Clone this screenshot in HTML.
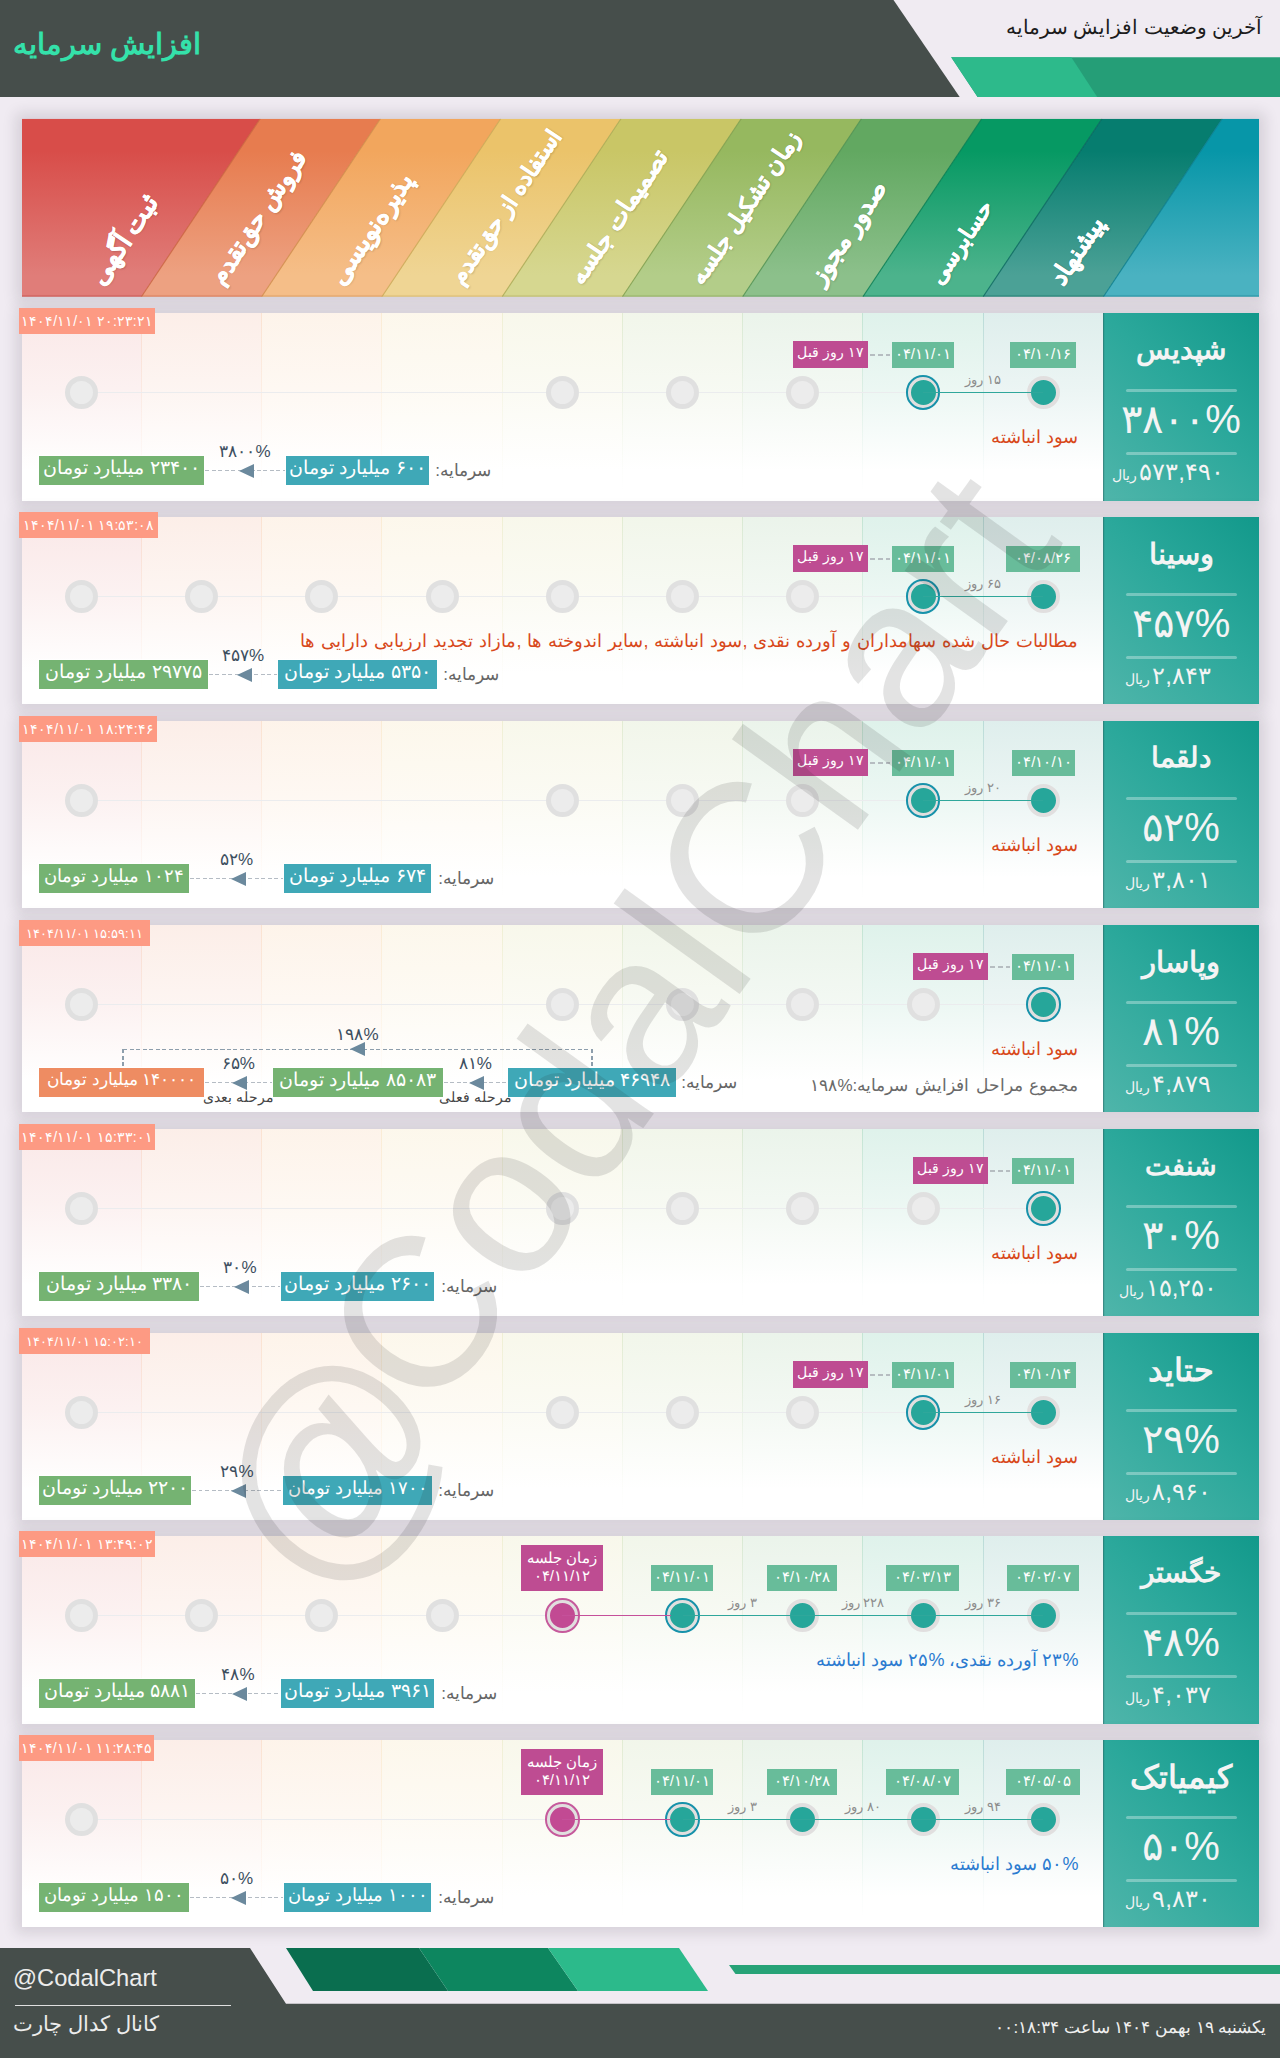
<!DOCTYPE html>
<html lang="fa">
<head>
<meta charset="utf-8">
<title>افزایش سرمایه</title>
<style>

*{box-sizing:border-box;margin:0;padding:0}
html,body{width:1280px;height:2058px;overflow:hidden}
body{position:relative;background:#f0ebf2;font-family:"Liberation Sans",sans-serif;color:#333}
.abs,.row,.row *,.hd *,.ft *,.sl{position:absolute}
.row span,.hd span,.ft span,.row small{position:static}
svg{position:absolute;left:0;top:0;overflow:visible}
.t{white-space:nowrap;display:flex;align-items:center;justify-content:center;direction:rtl;line-height:1}
.t.r{justify-content:flex-start}
.t.l{justify-content:flex-end}
.ltr{direction:ltr}
.row{left:22px;width:1237px;height:187.4px;background:#fff;box-shadow:0 0 13px 6px rgba(45,35,50,.135)}
.col{top:0;height:100%}
.vl{top:0;width:1px;height:100%}
.hl{height:1px;background:#ebecee}
.pn{top:0;right:0;height:100%;box-shadow:inset 1.2px 0 0 rgba(40,90,90,.45);background:linear-gradient(225deg,#12998b 0%,#2ba89b 45%,#4fb5aa 100%)}
.pn .nm{color:#f4f4f4;font-weight:bold}
.pn .dv{height:3px;border-radius:2px;background:rgba(255,255,255,.32)}
.pn .pc{color:#f4f4f4}
.pn .pr{color:#f4f4f4}
.pn .pr small{position:static;font-size:.6em;margin-right:2px}
.tag{background:#fd9a83;color:#fff}
.ce{width:33px;height:33px;border-radius:50%;background:#ececec;border:5.8px solid #e0e0e0}
.cf{width:33px;height:33px;border-radius:50%;background:#26a69a;border:4.3px solid #e1dfdf}
.cf.m{background:#c24a93}
.ring{width:34.4px;height:34.4px;border-radius:50%;border:2px solid #1792aa}
.ring.m{border-color:#c65a9c}
.ln{height:1.4px;background:#2fa79b}
.ln.m{background:#c5509a}
.dl{background:#68bc9a;color:#fff}
.ag{background:#be4c92;color:#fff}
.dash{height:1.2px;background:repeating-linear-gradient(to right,#b6bdc1 0,#b6bdc1 5px,transparent 5px,transparent 7.8px)}
.du{color:#8c8c8c}
.ds{color:#d8491c}
.ds.b{color:#2b7bd0}
.ds2{color:#6a6a6a}
.cap{color:#fff}
.cap{box-shadow:0 0 0 1px rgba(255,255,255,.75)}
.cap.g{background:#75b372}.cap.b{background:#3fa8b7}.cap.o{background:#ee8c62}
.cl{color:#666}
.ad{height:1.4px;background:repeating-linear-gradient(to right,#b5bcc4 0,#b5bcc4 4px,transparent 4px,transparent 6.5px)}
.vd{width:1.4px;background:repeating-linear-gradient(to bottom,#8d9eac 0,#8d9eac 4px,transparent 4px,transparent 6.5px)}
.hd2{height:1.4px;background:repeating-linear-gradient(to right,#8d9eac 0,#8d9eac 4px,transparent 4px,transparent 6.5px)}
.ah{width:0;height:0;border-top:7px solid transparent;border-bottom:7px solid transparent;border-right:15px solid #6b899d}
.ap{color:#3d4f60}
.sb{color:#444}
.sl{color:#fff;font-weight:bold;-webkit-text-stroke:.5px #fff;transform-origin:0 100%;text-shadow:0 1px 2px rgba(0,0,0,.18)}
.wm{left:0;top:0;white-space:nowrap;color:rgba(30,30,30,.125);transform-origin:0 0;line-height:1;direction:ltr}

</style>
</head>
<body>
<div class="hd abs" style="left:0;top:0;width:1280px;height:110px">
<svg width="1280" height="110" viewBox="0 0 1280 110"><polygon points="0,0 893.5,0 959.7,97 0,97" fill="#464e4b"/><polygon points="951.2,57.3 1280,57.3 1280,97 977.6,97" fill="#259e77"/><polygon points="951.2,57.3 1071.3,57.3 1097.2,97 977.6,97" fill="#2dba8b"/></svg>
<div class="t r" style="left:0;top:22px;width:201.5px;height:44px;font-size:29px;font-weight:bold;color:#34e1aa" id="ttl"><span>افزایش سرمایه</span></div>
<div class="t r" style="left:900px;top:12px;width:362.5px;height:30px;font-size:20px;color:#1c1c1c" id="sub"><span>آخرین وضعیت افزایش سرمایه</span></div>
</div>
<div class="abs" style="left:0;top:0;width:1280px;height:300px">
<div class="abs" style="left:22.0px;top:118.8px;width:1237.0px;height:177.89999999999998px;box-shadow:0 0 13px 6px rgba(45,35,50,.135)"></div>
<svg width="1280" height="300" viewBox="0 0 1280 300">
<defs>
<linearGradient id="g0" x1="0" y1="0" x2="0" y2="1"><stop offset=".18" stop-color="#d84d49"/><stop offset=".88" stop-color="#e07d79"/></linearGradient>
<linearGradient id="g1" x1="0" y1="0" x2="0" y2="1"><stop offset=".18" stop-color="#e77c4f"/><stop offset=".88" stop-color="#eda181"/></linearGradient>
<linearGradient id="g2" x1="0" y1="0" x2="0" y2="1"><stop offset=".18" stop-color="#f2a65d"/><stop offset=".88" stop-color="#f5be88"/></linearGradient>
<linearGradient id="g3" x1="0" y1="0" x2="0" y2="1"><stop offset=".18" stop-color="#ebc36a"/><stop offset=".88" stop-color="#efd594"/></linearGradient>
<linearGradient id="g4" x1="0" y1="0" x2="0" y2="1"><stop offset=".18" stop-color="#c9c666"/><stop offset=".88" stop-color="#d6d790"/></linearGradient>
<linearGradient id="g5" x1="0" y1="0" x2="0" y2="1"><stop offset=".18" stop-color="#96b85f"/><stop offset=".88" stop-color="#b3cd89"/></linearGradient>
<linearGradient id="g6" x1="0" y1="0" x2="0" y2="1"><stop offset=".18" stop-color="#62a861"/><stop offset=".88" stop-color="#8cc08b"/></linearGradient>
<linearGradient id="g7" x1="0" y1="0" x2="0" y2="1"><stop offset=".18" stop-color="#069963"/><stop offset=".88" stop-color="#4cb38c"/></linearGradient>
<linearGradient id="g8" x1="0" y1="0" x2="0" y2="1"><stop offset=".18" stop-color="#067d6f"/><stop offset=".88" stop-color="#4ba196"/></linearGradient>
<linearGradient id="g9" x1="0" y1="0" x2="0" y2="1"><stop offset=".18" stop-color="#0796a8"/><stop offset=".88" stop-color="#4ab2c1"/></linearGradient>
<filter id="bs" x="-5%" y="-10%" width="110%" height="125%"><feGaussianBlur stdDeviation="4"/></filter>
<clipPath id="bc"><rect x="22.0" y="118.8" width="1237.0" height="177.89999999999998"/></clipPath>
</defs>
<g clip-path="url(#bc)">
<polygon points="-178.00,296.70 -59.20,118.80 260.20,118.80 141.40,296.70" fill="url(#g0)"/>
<polygon points="141.40,296.70 260.20,118.80 380.45,118.80 261.65,296.70" fill="url(#g1)"/>
<polygon points="261.65,296.70 380.45,118.80 500.70,118.80 381.90,296.70" fill="url(#g2)"/>
<polygon points="381.90,296.70 500.70,118.80 620.95,118.80 502.15,296.70" fill="url(#g3)"/>
<polygon points="502.15,296.70 620.95,118.80 741.20,118.80 622.40,296.70" fill="url(#g4)"/>
<polygon points="622.40,296.70 741.20,118.80 861.45,118.80 742.65,296.70" fill="url(#g5)"/>
<polygon points="742.65,296.70 861.45,118.80 981.70,118.80 862.90,296.70" fill="url(#g6)"/>
<polygon points="862.90,296.70 981.70,118.80 1101.95,118.80 983.15,296.70" fill="url(#g7)"/>
<polygon points="983.15,296.70 1101.95,118.80 1222.20,118.80 1103.40,296.70" fill="url(#g8)"/>
<polygon points="1103.40,296.70 1222.20,118.80 1618.80,118.80 1500.00,296.70" fill="url(#g9)"/>
<line x1="141.40" y1="296.70" x2="260.20" y2="118.80" stroke="#c9603a" stroke-width="1.1" stroke-opacity=".85"/>
<line x1="261.65" y1="296.70" x2="380.45" y2="118.80" stroke="#cf8a45" stroke-width="1.1" stroke-opacity=".85"/>
<line x1="381.90" y1="296.70" x2="500.70" y2="118.80" stroke="#c9a650" stroke-width="1.1" stroke-opacity=".85"/>
<line x1="502.15" y1="296.70" x2="620.95" y2="118.80" stroke="#a9a850" stroke-width="1.1" stroke-opacity=".85"/>
<line x1="622.40" y1="296.70" x2="741.20" y2="118.80" stroke="#7d9c49" stroke-width="1.1" stroke-opacity=".85"/>
<line x1="742.65" y1="296.70" x2="861.45" y2="118.80" stroke="#4c8e4c" stroke-width="1.1" stroke-opacity=".85"/>
<line x1="862.90" y1="296.70" x2="981.70" y2="118.80" stroke="#047a4e" stroke-width="1.1" stroke-opacity=".85"/>
<line x1="983.15" y1="296.70" x2="1101.95" y2="118.80" stroke="#04645a" stroke-width="1.1" stroke-opacity=".85"/>
<line x1="1103.40" y1="296.70" x2="1222.20" y2="118.80" stroke="#057a89" stroke-width="1.1" stroke-opacity=".85"/>
<rect x="22.00" y="295.70" width="119.40" height="1" fill="#b93c38" fill-opacity=".8"/>
<rect x="141.40" y="295.70" width="120.25" height="1" fill="#c9603a" fill-opacity=".8"/>
<rect x="261.65" y="295.70" width="120.25" height="1" fill="#cf8a45" fill-opacity=".8"/>
<rect x="381.90" y="295.70" width="120.25" height="1" fill="#c9a650" fill-opacity=".8"/>
<rect x="502.15" y="295.70" width="120.25" height="1" fill="#a9a850" fill-opacity=".8"/>
<rect x="622.40" y="295.70" width="120.25" height="1" fill="#7d9c49" fill-opacity=".8"/>
<rect x="742.65" y="295.70" width="120.25" height="1" fill="#4c8e4c" fill-opacity=".8"/>
<rect x="862.90" y="295.70" width="120.25" height="1" fill="#047a4e" fill-opacity=".8"/>
<rect x="983.15" y="295.70" width="120.25" height="1" fill="#04645a" fill-opacity=".8"/>
<rect x="1103.40" y="295.70" width="155.60" height="1" fill="#057a89" fill-opacity=".8"/>
</g></svg>
<div class="t sl l" id="sl0" style="left:108px;top:260px;height:30px;width:260px;font-size:26px;transform:rotate(-56.27deg)"><span>ثبت آگهی</span></div>
<div class="t sl l" id="sl1" style="left:228px;top:260px;height:30px;width:260px;font-size:24px;transform:rotate(-56.27deg)"><span>فروش حق‌تقدم</span></div>
<div class="t sl l" id="sl2" style="left:348px;top:260px;height:30px;width:260px;font-size:26px;transform:rotate(-56.27deg)"><span>پذیره‌نویسی</span></div>
<div class="t sl l" id="sl3" style="left:468px;top:260px;height:30px;width:260px;font-size:23px;transform:rotate(-56.27deg)"><span>استفاده از حق‌تقدم</span></div>
<div class="t sl l" id="sl4" style="left:588px;top:260px;height:30px;width:260px;font-size:24px;transform:rotate(-56.27deg)"><span>تصمیمات جلسه</span></div>
<div class="t sl l" id="sl5" style="left:708px;top:260px;height:30px;width:260px;font-size:23px;transform:rotate(-56.27deg)"><span>زمان تشکیل جلسه</span></div>
<div class="t sl l" id="sl6" style="left:828px;top:260px;height:30px;width:260px;font-size:24.5px;transform:rotate(-56.27deg)"><span>صدور مجوز</span></div>
<div class="t sl l" id="sl7" style="left:948px;top:260px;height:30px;width:260px;font-size:22px;transform:rotate(-56.27deg)"><span>حسابرسی</span></div>
<div class="t sl l" id="sl8" style="left:1068px;top:260px;height:30px;width:260px;font-size:25px;transform:rotate(-56.27deg)"><span>پیشنهاد</span></div>
</div>
<div class="row" style="top:312.85px;height:188.13px">
<div class="col" style="left:0.00px;width:119.40px;background:linear-gradient(to bottom,rgba(216,77,73,.13) 0%,rgba(216,77,73,.078) 40%,rgba(216,77,73,0) 84%)"></div>
<div class="col" style="left:119.40px;width:120.25px;background:linear-gradient(to bottom,rgba(231,124,79,.13) 0%,rgba(231,124,79,.078) 40%,rgba(231,124,79,0) 84%)"></div>
<div class="col" style="left:239.65px;width:120.25px;background:linear-gradient(to bottom,rgba(242,166,93,.13) 0%,rgba(242,166,93,.078) 40%,rgba(242,166,93,0) 84%)"></div>
<div class="col" style="left:359.90px;width:120.25px;background:linear-gradient(to bottom,rgba(235,195,106,.13) 0%,rgba(235,195,106,.078) 40%,rgba(235,195,106,0) 84%)"></div>
<div class="col" style="left:480.15px;width:120.25px;background:linear-gradient(to bottom,rgba(201,198,102,.13) 0%,rgba(201,198,102,.078) 40%,rgba(201,198,102,0) 84%)"></div>
<div class="col" style="left:600.40px;width:120.25px;background:linear-gradient(to bottom,rgba(150,184,95,.13) 0%,rgba(150,184,95,.078) 40%,rgba(150,184,95,0) 84%)"></div>
<div class="col" style="left:720.65px;width:120.25px;background:linear-gradient(to bottom,rgba(98,168,97,.13) 0%,rgba(98,168,97,.078) 40%,rgba(98,168,97,0) 84%)"></div>
<div class="col" style="left:840.90px;width:120.25px;background:linear-gradient(to bottom,rgba(6,153,99,.13) 0%,rgba(6,153,99,.078) 40%,rgba(6,153,99,0) 84%)"></div>
<div class="col" style="left:961.15px;width:120.15px;background:linear-gradient(to bottom,rgba(6,125,111,.13) 0%,rgba(6,125,111,.078) 40%,rgba(6,125,111,0) 84%)"></div>
<div class="vl" style="left:118.90px;background:linear-gradient(to bottom,rgba(231,124,79,.17),rgba(231,124,79,0) 95%)"></div>
<div class="vl" style="left:239.15px;background:linear-gradient(to bottom,rgba(242,166,93,.17),rgba(242,166,93,0) 95%)"></div>
<div class="vl" style="left:359.40px;background:linear-gradient(to bottom,rgba(235,195,106,.17),rgba(235,195,106,0) 95%)"></div>
<div class="vl" style="left:479.65px;background:linear-gradient(to bottom,rgba(201,198,102,.17),rgba(201,198,102,0) 95%)"></div>
<div class="vl" style="left:599.90px;background:linear-gradient(to bottom,rgba(150,184,95,.17),rgba(150,184,95,0) 95%)"></div>
<div class="vl" style="left:720.15px;background:linear-gradient(to bottom,rgba(98,168,97,.17),rgba(98,168,97,0) 95%)"></div>
<div class="vl" style="left:840.40px;background:linear-gradient(to bottom,rgba(6,153,99,.17),rgba(6,153,99,0) 95%)"></div>
<div class="vl" style="left:960.65px;background:linear-gradient(to bottom,rgba(6,125,111,.17),rgba(6,125,111,0) 95%)"></div>
<div class="hl" style="left:59.40px;top:79.10px;width:962.00px"></div>
<div class="ce" style="left:42.90px;top:63.10px"></div>
<div class="ce" style="left:523.90px;top:63.10px"></div>
<div class="ce" style="left:644.15px;top:63.10px"></div>
<div class="ce" style="left:764.40px;top:63.10px"></div>
<div class="cf" style="left:1004.90px;top:63.10px"></div>
<div class="t dl ltr" style="left:988.00px;top:29.30px;width:66.00px;height:25.80px;font-size:15px;padding-bottom:3.5px;"><span>۰۴/۱۰/۱۶</span></div>
<div class="cf" style="left:884.65px;top:63.10px"></div>
<div class="ring" style="left:883.95px;top:62.40px"></div>
<div class="t dl ltr" style="left:870.00px;top:29.30px;width:62.00px;height:25.80px;font-size:15px;padding-bottom:3.5px;"><span>۰۴/۱۱/۰۱</span></div>
<div class="ln" style="left:901.15px;top:78.95px;width:120.25px"></div>
<div class="t du" style="left:921.28px;top:59.10px;width:80.00px;height:16.00px;font-size:13px;"><span>۱۵ روز</span></div>
<div class="t ag" style="left:771.00px;top:28.30px;width:75.00px;height:27.00px;font-size:14px;padding-bottom:6px;"><span>۱۷ روز قبل</span></div>
<div class="dash" style="left:848.00px;top:41.60px;width:20.00px"></div>
<div class="t ds r " style="left:156.50px;top:112.00px;width:900.00px;height:24.00px;font-size:18px;"><span>سود انباشته</span></div>
<div class="t cap g" style="left:17.00px;top:142.90px;width:165.00px;height:29.00px;font-size:19px;padding-bottom:5px;"><span>۲۳۴۰۰ میلیارد تومان</span></div>
<div class="t cap b" style="left:264.00px;top:142.90px;width:143.00px;height:29.00px;font-size:19px;padding-bottom:5px;"><span>۶۰۰ میلیارد تومان</span></div>
<div class="t cl r" style="left:369.00px;top:142.90px;width:100.00px;height:29.00px;font-size:17px;"><span>سرمایه:</span></div>
<div class="ad" style="left:183.00px;top:157.20px;width:80.00px"></div>
<div class="ah" style="left:217.00px;top:150.90px"></div>
<div class="t ap ltr" style="left:183.00px;top:129.40px;width:80.00px;height:18.00px;font-size:17px;"><span>۳۸۰۰%</span></div>
<div class="t tag ltr" style="left:-3.00px;top:-4.60px;width:136.00px;height:25.70px;font-size:14px;"><span>۱۴۰۴/۱۱/۰۱ ۲۰:۲۳:۲۱</span></div>
<div class="pn" style="width:155.70px">
<div class="t nm" id="nm0" style="left:0.00px;top:15.50px;width:155.70px;height:44.00px;font-size:28px;"><span>شپدیس</span></div>
<div class="dv" style="left:23px;top:75.90px;width:111px"></div>
<div class="t pc ltr" id="pc0" style="left:0.00px;top:82.50px;width:155.70px;height:48.00px;font-size:40px;"><span>۳۸۰۰%</span></div>
<div class="dv" style="left:23px;top:138.90px;width:111px"></div>
<div class="t pr" id="pr0" style="left:-15.30px;top:147px;width:160px;height:24px;font-size:24px"><span>۵۷۳,۴۹۰<small>ریال</small></span></div>
</div>
</div>
<div class="row" style="top:516.84px;height:187.13px">
<div class="col" style="left:0.00px;width:119.40px;background:linear-gradient(to bottom,rgba(216,77,73,.13) 0%,rgba(216,77,73,.078) 40%,rgba(216,77,73,0) 84%)"></div>
<div class="col" style="left:119.40px;width:120.25px;background:linear-gradient(to bottom,rgba(231,124,79,.13) 0%,rgba(231,124,79,.078) 40%,rgba(231,124,79,0) 84%)"></div>
<div class="col" style="left:239.65px;width:120.25px;background:linear-gradient(to bottom,rgba(242,166,93,.13) 0%,rgba(242,166,93,.078) 40%,rgba(242,166,93,0) 84%)"></div>
<div class="col" style="left:359.90px;width:120.25px;background:linear-gradient(to bottom,rgba(235,195,106,.13) 0%,rgba(235,195,106,.078) 40%,rgba(235,195,106,0) 84%)"></div>
<div class="col" style="left:480.15px;width:120.25px;background:linear-gradient(to bottom,rgba(201,198,102,.13) 0%,rgba(201,198,102,.078) 40%,rgba(201,198,102,0) 84%)"></div>
<div class="col" style="left:600.40px;width:120.25px;background:linear-gradient(to bottom,rgba(150,184,95,.13) 0%,rgba(150,184,95,.078) 40%,rgba(150,184,95,0) 84%)"></div>
<div class="col" style="left:720.65px;width:120.25px;background:linear-gradient(to bottom,rgba(98,168,97,.13) 0%,rgba(98,168,97,.078) 40%,rgba(98,168,97,0) 84%)"></div>
<div class="col" style="left:840.90px;width:120.25px;background:linear-gradient(to bottom,rgba(6,153,99,.13) 0%,rgba(6,153,99,.078) 40%,rgba(6,153,99,0) 84%)"></div>
<div class="col" style="left:961.15px;width:120.15px;background:linear-gradient(to bottom,rgba(6,125,111,.13) 0%,rgba(6,125,111,.078) 40%,rgba(6,125,111,0) 84%)"></div>
<div class="vl" style="left:118.90px;background:linear-gradient(to bottom,rgba(231,124,79,.17),rgba(231,124,79,0) 95%)"></div>
<div class="vl" style="left:239.15px;background:linear-gradient(to bottom,rgba(242,166,93,.17),rgba(242,166,93,0) 95%)"></div>
<div class="vl" style="left:359.40px;background:linear-gradient(to bottom,rgba(235,195,106,.17),rgba(235,195,106,0) 95%)"></div>
<div class="vl" style="left:479.65px;background:linear-gradient(to bottom,rgba(201,198,102,.17),rgba(201,198,102,0) 95%)"></div>
<div class="vl" style="left:599.90px;background:linear-gradient(to bottom,rgba(150,184,95,.17),rgba(150,184,95,0) 95%)"></div>
<div class="vl" style="left:720.15px;background:linear-gradient(to bottom,rgba(98,168,97,.17),rgba(98,168,97,0) 95%)"></div>
<div class="vl" style="left:840.40px;background:linear-gradient(to bottom,rgba(6,153,99,.17),rgba(6,153,99,0) 95%)"></div>
<div class="vl" style="left:960.65px;background:linear-gradient(to bottom,rgba(6,125,111,.17),rgba(6,125,111,0) 95%)"></div>
<div class="hl" style="left:59.40px;top:79.10px;width:962.00px"></div>
<div class="ce" style="left:42.90px;top:63.10px"></div>
<div class="ce" style="left:163.15px;top:63.10px"></div>
<div class="ce" style="left:283.40px;top:63.10px"></div>
<div class="ce" style="left:403.65px;top:63.10px"></div>
<div class="ce" style="left:523.90px;top:63.10px"></div>
<div class="ce" style="left:644.15px;top:63.10px"></div>
<div class="ce" style="left:764.40px;top:63.10px"></div>
<div class="cf" style="left:1004.90px;top:63.10px"></div>
<div class="t dl ltr" style="left:984.00px;top:29.30px;width:74.00px;height:25.80px;font-size:15px;padding-bottom:3.5px;"><span>۰۴/۰۸/۲۶</span></div>
<div class="cf" style="left:884.65px;top:63.10px"></div>
<div class="ring" style="left:883.95px;top:62.40px"></div>
<div class="t dl ltr" style="left:870.00px;top:29.30px;width:62.00px;height:25.80px;font-size:15px;padding-bottom:3.5px;"><span>۰۴/۱۱/۰۱</span></div>
<div class="ln" style="left:901.15px;top:78.95px;width:120.25px"></div>
<div class="t du" style="left:921.28px;top:59.10px;width:80.00px;height:16.00px;font-size:13px;"><span>۶۵ روز</span></div>
<div class="t ag" style="left:771.00px;top:28.30px;width:75.00px;height:27.00px;font-size:14px;padding-bottom:6px;"><span>۱۷ روز قبل</span></div>
<div class="dash" style="left:848.00px;top:41.60px;width:20.00px"></div>
<div class="t ds r " style="left:156.50px;top:112.00px;width:900.00px;height:24.00px;font-size:18px;word-spacing:1px;"><span>مطالبات حال شده سهامداران و آورده نقدی ,سود انباشته ,سایر اندوخته ها ,مازاد تجدید ارزیابی دارایی ها</span></div>
<div class="t cap g" style="left:17.00px;top:142.90px;width:169.00px;height:29.00px;font-size:19px;padding-bottom:5px;"><span>۲۹۷۷۵ میلیارد تومان</span></div>
<div class="t cap b" style="left:256.00px;top:142.90px;width:159.00px;height:29.00px;font-size:19px;padding-bottom:5px;"><span>۵۳۵۰ میلیارد تومان</span></div>
<div class="t cl r" style="left:377.00px;top:142.90px;width:100.00px;height:29.00px;font-size:17px;"><span>سرمایه:</span></div>
<div class="ad" style="left:187.00px;top:157.20px;width:68.00px"></div>
<div class="ah" style="left:215.00px;top:150.90px"></div>
<div class="t ap ltr" style="left:181.00px;top:129.40px;width:80.00px;height:18.00px;font-size:17px;"><span>۴۵۷%</span></div>
<div class="t tag ltr" style="left:-3.00px;top:-4.60px;width:139.00px;height:25.70px;font-size:14px;"><span>۱۴۰۴/۱۱/۰۱ ۱۹:۵۳:۰۸</span></div>
<div class="pn" style="width:155.70px">
<div class="t nm" id="nm1" style="left:0.00px;top:15.50px;width:155.70px;height:44.00px;font-size:29px;"><span>وسینا</span></div>
<div class="dv" style="left:23px;top:75.90px;width:111px"></div>
<div class="t pc ltr" id="pc1" style="left:0.00px;top:82.50px;width:155.70px;height:48.00px;font-size:40px;"><span>۴۵۷%</span></div>
<div class="dv" style="left:23px;top:138.90px;width:111px"></div>
<div class="t pr" id="pr1" style="left:-15.30px;top:147px;width:160px;height:24px;font-size:24px"><span>۲,۸۴۳<small>ریال</small></span></div>
</div>
</div>
<div class="row" style="top:720.84px;height:187.13px">
<div class="col" style="left:0.00px;width:119.40px;background:linear-gradient(to bottom,rgba(216,77,73,.13) 0%,rgba(216,77,73,.078) 40%,rgba(216,77,73,0) 84%)"></div>
<div class="col" style="left:119.40px;width:120.25px;background:linear-gradient(to bottom,rgba(231,124,79,.13) 0%,rgba(231,124,79,.078) 40%,rgba(231,124,79,0) 84%)"></div>
<div class="col" style="left:239.65px;width:120.25px;background:linear-gradient(to bottom,rgba(242,166,93,.13) 0%,rgba(242,166,93,.078) 40%,rgba(242,166,93,0) 84%)"></div>
<div class="col" style="left:359.90px;width:120.25px;background:linear-gradient(to bottom,rgba(235,195,106,.13) 0%,rgba(235,195,106,.078) 40%,rgba(235,195,106,0) 84%)"></div>
<div class="col" style="left:480.15px;width:120.25px;background:linear-gradient(to bottom,rgba(201,198,102,.13) 0%,rgba(201,198,102,.078) 40%,rgba(201,198,102,0) 84%)"></div>
<div class="col" style="left:600.40px;width:120.25px;background:linear-gradient(to bottom,rgba(150,184,95,.13) 0%,rgba(150,184,95,.078) 40%,rgba(150,184,95,0) 84%)"></div>
<div class="col" style="left:720.65px;width:120.25px;background:linear-gradient(to bottom,rgba(98,168,97,.13) 0%,rgba(98,168,97,.078) 40%,rgba(98,168,97,0) 84%)"></div>
<div class="col" style="left:840.90px;width:120.25px;background:linear-gradient(to bottom,rgba(6,153,99,.13) 0%,rgba(6,153,99,.078) 40%,rgba(6,153,99,0) 84%)"></div>
<div class="col" style="left:961.15px;width:120.15px;background:linear-gradient(to bottom,rgba(6,125,111,.13) 0%,rgba(6,125,111,.078) 40%,rgba(6,125,111,0) 84%)"></div>
<div class="vl" style="left:118.90px;background:linear-gradient(to bottom,rgba(231,124,79,.17),rgba(231,124,79,0) 95%)"></div>
<div class="vl" style="left:239.15px;background:linear-gradient(to bottom,rgba(242,166,93,.17),rgba(242,166,93,0) 95%)"></div>
<div class="vl" style="left:359.40px;background:linear-gradient(to bottom,rgba(235,195,106,.17),rgba(235,195,106,0) 95%)"></div>
<div class="vl" style="left:479.65px;background:linear-gradient(to bottom,rgba(201,198,102,.17),rgba(201,198,102,0) 95%)"></div>
<div class="vl" style="left:599.90px;background:linear-gradient(to bottom,rgba(150,184,95,.17),rgba(150,184,95,0) 95%)"></div>
<div class="vl" style="left:720.15px;background:linear-gradient(to bottom,rgba(98,168,97,.17),rgba(98,168,97,0) 95%)"></div>
<div class="vl" style="left:840.40px;background:linear-gradient(to bottom,rgba(6,153,99,.17),rgba(6,153,99,0) 95%)"></div>
<div class="vl" style="left:960.65px;background:linear-gradient(to bottom,rgba(6,125,111,.17),rgba(6,125,111,0) 95%)"></div>
<div class="hl" style="left:59.40px;top:79.10px;width:962.00px"></div>
<div class="ce" style="left:42.90px;top:63.10px"></div>
<div class="ce" style="left:523.90px;top:63.10px"></div>
<div class="ce" style="left:644.15px;top:63.10px"></div>
<div class="ce" style="left:764.40px;top:63.10px"></div>
<div class="cf" style="left:1004.90px;top:63.10px"></div>
<div class="t dl ltr" style="left:990.00px;top:29.30px;width:63.00px;height:25.80px;font-size:15px;padding-bottom:3.5px;"><span>۰۴/۱۰/۱۰</span></div>
<div class="cf" style="left:884.65px;top:63.10px"></div>
<div class="ring" style="left:883.95px;top:62.40px"></div>
<div class="t dl ltr" style="left:870.00px;top:29.30px;width:62.00px;height:25.80px;font-size:15px;padding-bottom:3.5px;"><span>۰۴/۱۱/۰۱</span></div>
<div class="ln" style="left:901.15px;top:78.95px;width:120.25px"></div>
<div class="t du" style="left:921.28px;top:59.10px;width:80.00px;height:16.00px;font-size:13px;"><span>۲۰ روز</span></div>
<div class="t ag" style="left:771.00px;top:28.30px;width:75.00px;height:27.00px;font-size:14px;padding-bottom:6px;"><span>۱۷ روز قبل</span></div>
<div class="dash" style="left:848.00px;top:41.60px;width:20.00px"></div>
<div class="t ds r " style="left:156.50px;top:112.00px;width:900.00px;height:24.00px;font-size:18px;"><span>سود انباشته</span></div>
<div class="t cap g" style="left:17.00px;top:142.90px;width:150.00px;height:29.00px;font-size:18px;padding-bottom:5px;"><span>۱۰۲۴ میلیارد تومان</span></div>
<div class="t cap b" style="left:262.00px;top:142.90px;width:147.00px;height:29.00px;font-size:19px;padding-bottom:5px;"><span>۶۷۴ میلیارد تومان</span></div>
<div class="t cl r" style="left:372.00px;top:142.90px;width:100.00px;height:29.00px;font-size:17px;"><span>سرمایه:</span></div>
<div class="ad" style="left:168.00px;top:157.20px;width:93.00px"></div>
<div class="ah" style="left:208.50px;top:150.90px"></div>
<div class="t ap ltr" style="left:174.50px;top:129.40px;width:80.00px;height:18.00px;font-size:17px;"><span>۵۲%</span></div>
<div class="t tag ltr" style="left:-3.00px;top:-4.60px;width:138.00px;height:25.70px;font-size:14px;"><span>۱۴۰۴/۱۱/۰۱ ۱۸:۲۴:۴۶</span></div>
<div class="pn" style="width:155.70px">
<div class="t nm" id="nm2" style="left:0.00px;top:15.50px;width:155.70px;height:44.00px;font-size:28px;"><span>دلقما</span></div>
<div class="dv" style="left:23px;top:75.90px;width:111px"></div>
<div class="t pc ltr" id="pc2" style="left:0.00px;top:82.50px;width:155.70px;height:48.00px;font-size:40px;"><span>۵۲%</span></div>
<div class="dv" style="left:23px;top:138.90px;width:111px"></div>
<div class="t pr" id="pr2" style="left:-15.30px;top:147px;width:160px;height:24px;font-size:24px"><span>۳,۸۰۱<small>ریال</small></span></div>
</div>
</div>
<div class="row" style="top:924.84px;height:187.13px">
<div class="col" style="left:0.00px;width:119.40px;background:linear-gradient(to bottom,rgba(216,77,73,.13) 0%,rgba(216,77,73,.078) 40%,rgba(216,77,73,0) 84%)"></div>
<div class="col" style="left:119.40px;width:120.25px;background:linear-gradient(to bottom,rgba(231,124,79,.13) 0%,rgba(231,124,79,.078) 40%,rgba(231,124,79,0) 84%)"></div>
<div class="col" style="left:239.65px;width:120.25px;background:linear-gradient(to bottom,rgba(242,166,93,.13) 0%,rgba(242,166,93,.078) 40%,rgba(242,166,93,0) 84%)"></div>
<div class="col" style="left:359.90px;width:120.25px;background:linear-gradient(to bottom,rgba(235,195,106,.13) 0%,rgba(235,195,106,.078) 40%,rgba(235,195,106,0) 84%)"></div>
<div class="col" style="left:480.15px;width:120.25px;background:linear-gradient(to bottom,rgba(201,198,102,.13) 0%,rgba(201,198,102,.078) 40%,rgba(201,198,102,0) 84%)"></div>
<div class="col" style="left:600.40px;width:120.25px;background:linear-gradient(to bottom,rgba(150,184,95,.13) 0%,rgba(150,184,95,.078) 40%,rgba(150,184,95,0) 84%)"></div>
<div class="col" style="left:720.65px;width:120.25px;background:linear-gradient(to bottom,rgba(98,168,97,.13) 0%,rgba(98,168,97,.078) 40%,rgba(98,168,97,0) 84%)"></div>
<div class="col" style="left:840.90px;width:120.25px;background:linear-gradient(to bottom,rgba(6,153,99,.13) 0%,rgba(6,153,99,.078) 40%,rgba(6,153,99,0) 84%)"></div>
<div class="col" style="left:961.15px;width:120.15px;background:linear-gradient(to bottom,rgba(6,125,111,.13) 0%,rgba(6,125,111,.078) 40%,rgba(6,125,111,0) 84%)"></div>
<div class="vl" style="left:118.90px;background:linear-gradient(to bottom,rgba(231,124,79,.17),rgba(231,124,79,0) 95%)"></div>
<div class="vl" style="left:239.15px;background:linear-gradient(to bottom,rgba(242,166,93,.17),rgba(242,166,93,0) 95%)"></div>
<div class="vl" style="left:359.40px;background:linear-gradient(to bottom,rgba(235,195,106,.17),rgba(235,195,106,0) 95%)"></div>
<div class="vl" style="left:479.65px;background:linear-gradient(to bottom,rgba(201,198,102,.17),rgba(201,198,102,0) 95%)"></div>
<div class="vl" style="left:599.90px;background:linear-gradient(to bottom,rgba(150,184,95,.17),rgba(150,184,95,0) 95%)"></div>
<div class="vl" style="left:720.15px;background:linear-gradient(to bottom,rgba(98,168,97,.17),rgba(98,168,97,0) 95%)"></div>
<div class="vl" style="left:840.40px;background:linear-gradient(to bottom,rgba(6,153,99,.17),rgba(6,153,99,0) 95%)"></div>
<div class="vl" style="left:960.65px;background:linear-gradient(to bottom,rgba(6,125,111,.17),rgba(6,125,111,0) 95%)"></div>
<div class="hl" style="left:59.40px;top:79.10px;width:962.00px"></div>
<div class="ce" style="left:42.90px;top:63.10px"></div>
<div class="ce" style="left:523.90px;top:63.10px"></div>
<div class="ce" style="left:644.15px;top:63.10px"></div>
<div class="ce" style="left:764.40px;top:63.10px"></div>
<div class="ce" style="left:884.65px;top:63.10px"></div>
<div class="cf" style="left:1004.90px;top:63.10px"></div>
<div class="ring" style="left:1004.20px;top:62.40px"></div>
<div class="t dl ltr" style="left:990.00px;top:29.30px;width:62.00px;height:25.80px;font-size:15px;padding-bottom:3.5px;"><span>۰۴/۱۱/۰۱</span></div>
<div class="t ag" style="left:891.00px;top:28.30px;width:75.00px;height:27.00px;font-size:14px;padding-bottom:6px;"><span>۱۷ روز قبل</span></div>
<div class="dash" style="left:968.00px;top:41.60px;width:20.00px"></div>
<div class="t ds r " style="left:156.50px;top:112.00px;width:900.00px;height:24.00px;font-size:18px;"><span>سود انباشته</span></div>
<div class="t ds2 r" style="left:556.50px;top:148.50px;width:500.00px;height:24.00px;font-size:17px;word-spacing:2px;"><span>مجموع مراحل افزایش سرمایه:<span dir="ltr">۱۹۸%</span></span></div>
<div class="t cap o" style="left:17.00px;top:142.90px;width:165.00px;height:29.00px;font-size:17px;padding-bottom:5px;"><span>۱۴۰۰۰۰ میلیارد تومان</span></div>
<div class="t cap g" style="left:250.50px;top:142.90px;width:170.00px;height:29.00px;font-size:19px;padding-bottom:5px;"><span>۸۵۰۸۳ میلیارد تومان</span></div>
<div class="t cap b" style="left:486.00px;top:142.90px;width:168.00px;height:29.00px;font-size:19px;padding-bottom:5px;"><span>۴۶۹۴۸ میلیارد تومان</span></div>
<div class="t cl r" style="left:615.00px;top:142.90px;width:100.00px;height:29.00px;font-size:17px;"><span>سرمایه:</span></div>
<div class="ad" style="left:183.00px;top:157.20px;width:66.50px"></div>
<div class="ah" style="left:210.25px;top:150.90px"></div>
<div class="t ap ltr" style="left:176.25px;top:129.40px;width:80.00px;height:18.00px;font-size:17px;"><span>۶۵%</span></div>
<div class="t sb" style="left:171.25px;top:164.10px;width:90.00px;height:16.00px;font-size:14px;"><span>مرحله بعدی</span></div>
<div class="ad" style="left:421.50px;top:157.20px;width:63.50px"></div>
<div class="ah" style="left:447.25px;top:150.90px"></div>
<div class="t ap ltr" style="left:413.25px;top:129.40px;width:80.00px;height:18.00px;font-size:17px;"><span>۸۱%</span></div>
<div class="t sb" style="left:408.25px;top:164.10px;width:90.00px;height:16.00px;font-size:14px;"><span>مرحله فعلی</span></div>
<div class="hd2" style="left:101.00px;top:123.90px;width:469.00px"></div>
<div class="vd" style="left:100.30px;top:123.90px;height:19.00px"></div>
<div class="vd" style="left:569.30px;top:123.90px;height:19.00px"></div>
<div class="ah" style="left:327.50px;top:117.60px"></div>
<div class="t ap ltr" style="left:295.50px;top:100.90px;width:80.00px;height:18.00px;font-size:17px;"><span>۱۹۸%</span></div>
<div class="t tag ltr" style="left:-3.00px;top:-4.60px;width:131.00px;height:25.70px;font-size:13px;"><span>۱۴۰۴/۱۱/۰۱ ۱۵:۵۹:۱۱</span></div>
<div class="pn" style="width:155.70px">
<div class="t nm" id="nm3" style="left:0.00px;top:15.50px;width:155.70px;height:44.00px;font-size:29px;"><span>وپاسار</span></div>
<div class="dv" style="left:23px;top:75.90px;width:111px"></div>
<div class="t pc ltr" id="pc3" style="left:0.00px;top:82.50px;width:155.70px;height:48.00px;font-size:40px;"><span>۸۱%</span></div>
<div class="dv" style="left:23px;top:138.90px;width:111px"></div>
<div class="t pr" id="pr3" style="left:-15.30px;top:147px;width:160px;height:24px;font-size:24px"><span>۴,۸۷۹<small>ریال</small></span></div>
</div>
</div>
<div class="row" style="top:1128.84px;height:187.13px">
<div class="col" style="left:0.00px;width:119.40px;background:linear-gradient(to bottom,rgba(216,77,73,.13) 0%,rgba(216,77,73,.078) 40%,rgba(216,77,73,0) 84%)"></div>
<div class="col" style="left:119.40px;width:120.25px;background:linear-gradient(to bottom,rgba(231,124,79,.13) 0%,rgba(231,124,79,.078) 40%,rgba(231,124,79,0) 84%)"></div>
<div class="col" style="left:239.65px;width:120.25px;background:linear-gradient(to bottom,rgba(242,166,93,.13) 0%,rgba(242,166,93,.078) 40%,rgba(242,166,93,0) 84%)"></div>
<div class="col" style="left:359.90px;width:120.25px;background:linear-gradient(to bottom,rgba(235,195,106,.13) 0%,rgba(235,195,106,.078) 40%,rgba(235,195,106,0) 84%)"></div>
<div class="col" style="left:480.15px;width:120.25px;background:linear-gradient(to bottom,rgba(201,198,102,.13) 0%,rgba(201,198,102,.078) 40%,rgba(201,198,102,0) 84%)"></div>
<div class="col" style="left:600.40px;width:120.25px;background:linear-gradient(to bottom,rgba(150,184,95,.13) 0%,rgba(150,184,95,.078) 40%,rgba(150,184,95,0) 84%)"></div>
<div class="col" style="left:720.65px;width:120.25px;background:linear-gradient(to bottom,rgba(98,168,97,.13) 0%,rgba(98,168,97,.078) 40%,rgba(98,168,97,0) 84%)"></div>
<div class="col" style="left:840.90px;width:120.25px;background:linear-gradient(to bottom,rgba(6,153,99,.13) 0%,rgba(6,153,99,.078) 40%,rgba(6,153,99,0) 84%)"></div>
<div class="col" style="left:961.15px;width:120.15px;background:linear-gradient(to bottom,rgba(6,125,111,.13) 0%,rgba(6,125,111,.078) 40%,rgba(6,125,111,0) 84%)"></div>
<div class="vl" style="left:118.90px;background:linear-gradient(to bottom,rgba(231,124,79,.17),rgba(231,124,79,0) 95%)"></div>
<div class="vl" style="left:239.15px;background:linear-gradient(to bottom,rgba(242,166,93,.17),rgba(242,166,93,0) 95%)"></div>
<div class="vl" style="left:359.40px;background:linear-gradient(to bottom,rgba(235,195,106,.17),rgba(235,195,106,0) 95%)"></div>
<div class="vl" style="left:479.65px;background:linear-gradient(to bottom,rgba(201,198,102,.17),rgba(201,198,102,0) 95%)"></div>
<div class="vl" style="left:599.90px;background:linear-gradient(to bottom,rgba(150,184,95,.17),rgba(150,184,95,0) 95%)"></div>
<div class="vl" style="left:720.15px;background:linear-gradient(to bottom,rgba(98,168,97,.17),rgba(98,168,97,0) 95%)"></div>
<div class="vl" style="left:840.40px;background:linear-gradient(to bottom,rgba(6,153,99,.17),rgba(6,153,99,0) 95%)"></div>
<div class="vl" style="left:960.65px;background:linear-gradient(to bottom,rgba(6,125,111,.17),rgba(6,125,111,0) 95%)"></div>
<div class="hl" style="left:59.40px;top:79.10px;width:962.00px"></div>
<div class="ce" style="left:42.90px;top:63.10px"></div>
<div class="ce" style="left:523.90px;top:63.10px"></div>
<div class="ce" style="left:644.15px;top:63.10px"></div>
<div class="ce" style="left:764.40px;top:63.10px"></div>
<div class="ce" style="left:884.65px;top:63.10px"></div>
<div class="cf" style="left:1004.90px;top:63.10px"></div>
<div class="ring" style="left:1004.20px;top:62.40px"></div>
<div class="t dl ltr" style="left:990.00px;top:29.30px;width:62.00px;height:25.80px;font-size:15px;padding-bottom:3.5px;"><span>۰۴/۱۱/۰۱</span></div>
<div class="t ag" style="left:891.00px;top:28.30px;width:75.00px;height:27.00px;font-size:14px;padding-bottom:6px;"><span>۱۷ روز قبل</span></div>
<div class="dash" style="left:968.00px;top:41.60px;width:20.00px"></div>
<div class="t ds r " style="left:156.50px;top:112.00px;width:900.00px;height:24.00px;font-size:18px;"><span>سود انباشته</span></div>
<div class="t cap g" style="left:17.00px;top:142.90px;width:160.00px;height:29.00px;font-size:19px;padding-bottom:5px;"><span>۳۳۸۰ میلیارد تومان</span></div>
<div class="t cap b" style="left:259.00px;top:142.90px;width:153.00px;height:29.00px;font-size:19px;padding-bottom:5px;"><span>۲۶۰۰ میلیارد تومان</span></div>
<div class="t cl r" style="left:375.00px;top:142.90px;width:100.00px;height:29.00px;font-size:17px;"><span>سرمایه:</span></div>
<div class="ad" style="left:178.00px;top:157.20px;width:80.00px"></div>
<div class="ah" style="left:212.00px;top:150.90px"></div>
<div class="t ap ltr" style="left:178.00px;top:129.40px;width:80.00px;height:18.00px;font-size:17px;"><span>۳۰%</span></div>
<div class="t tag ltr" style="left:-3.00px;top:-4.60px;width:136.00px;height:25.70px;font-size:14px;"><span>۱۴۰۴/۱۱/۰۱ ۱۵:۳۳:۰۱</span></div>
<div class="pn" style="width:155.70px">
<div class="t nm" id="nm4" style="left:0.00px;top:15.50px;width:155.70px;height:44.00px;font-size:27px;"><span>شنفت</span></div>
<div class="dv" style="left:23px;top:75.90px;width:111px"></div>
<div class="t pc ltr" id="pc4" style="left:0.00px;top:82.50px;width:155.70px;height:48.00px;font-size:40px;"><span>۳۰%</span></div>
<div class="dv" style="left:23px;top:138.90px;width:111px"></div>
<div class="t pr" id="pr4" style="left:-15.30px;top:147px;width:160px;height:24px;font-size:24px"><span>۱۵,۲۵۰<small>ریال</small></span></div>
</div>
</div>
<div class="row" style="top:1332.84px;height:187.13px">
<div class="col" style="left:0.00px;width:119.40px;background:linear-gradient(to bottom,rgba(216,77,73,.13) 0%,rgba(216,77,73,.078) 40%,rgba(216,77,73,0) 84%)"></div>
<div class="col" style="left:119.40px;width:120.25px;background:linear-gradient(to bottom,rgba(231,124,79,.13) 0%,rgba(231,124,79,.078) 40%,rgba(231,124,79,0) 84%)"></div>
<div class="col" style="left:239.65px;width:120.25px;background:linear-gradient(to bottom,rgba(242,166,93,.13) 0%,rgba(242,166,93,.078) 40%,rgba(242,166,93,0) 84%)"></div>
<div class="col" style="left:359.90px;width:120.25px;background:linear-gradient(to bottom,rgba(235,195,106,.13) 0%,rgba(235,195,106,.078) 40%,rgba(235,195,106,0) 84%)"></div>
<div class="col" style="left:480.15px;width:120.25px;background:linear-gradient(to bottom,rgba(201,198,102,.13) 0%,rgba(201,198,102,.078) 40%,rgba(201,198,102,0) 84%)"></div>
<div class="col" style="left:600.40px;width:120.25px;background:linear-gradient(to bottom,rgba(150,184,95,.13) 0%,rgba(150,184,95,.078) 40%,rgba(150,184,95,0) 84%)"></div>
<div class="col" style="left:720.65px;width:120.25px;background:linear-gradient(to bottom,rgba(98,168,97,.13) 0%,rgba(98,168,97,.078) 40%,rgba(98,168,97,0) 84%)"></div>
<div class="col" style="left:840.90px;width:120.25px;background:linear-gradient(to bottom,rgba(6,153,99,.13) 0%,rgba(6,153,99,.078) 40%,rgba(6,153,99,0) 84%)"></div>
<div class="col" style="left:961.15px;width:120.15px;background:linear-gradient(to bottom,rgba(6,125,111,.13) 0%,rgba(6,125,111,.078) 40%,rgba(6,125,111,0) 84%)"></div>
<div class="vl" style="left:118.90px;background:linear-gradient(to bottom,rgba(231,124,79,.17),rgba(231,124,79,0) 95%)"></div>
<div class="vl" style="left:239.15px;background:linear-gradient(to bottom,rgba(242,166,93,.17),rgba(242,166,93,0) 95%)"></div>
<div class="vl" style="left:359.40px;background:linear-gradient(to bottom,rgba(235,195,106,.17),rgba(235,195,106,0) 95%)"></div>
<div class="vl" style="left:479.65px;background:linear-gradient(to bottom,rgba(201,198,102,.17),rgba(201,198,102,0) 95%)"></div>
<div class="vl" style="left:599.90px;background:linear-gradient(to bottom,rgba(150,184,95,.17),rgba(150,184,95,0) 95%)"></div>
<div class="vl" style="left:720.15px;background:linear-gradient(to bottom,rgba(98,168,97,.17),rgba(98,168,97,0) 95%)"></div>
<div class="vl" style="left:840.40px;background:linear-gradient(to bottom,rgba(6,153,99,.17),rgba(6,153,99,0) 95%)"></div>
<div class="vl" style="left:960.65px;background:linear-gradient(to bottom,rgba(6,125,111,.17),rgba(6,125,111,0) 95%)"></div>
<div class="hl" style="left:59.40px;top:79.10px;width:962.00px"></div>
<div class="ce" style="left:42.90px;top:63.10px"></div>
<div class="ce" style="left:523.90px;top:63.10px"></div>
<div class="ce" style="left:644.15px;top:63.10px"></div>
<div class="ce" style="left:764.40px;top:63.10px"></div>
<div class="cf" style="left:1004.90px;top:63.10px"></div>
<div class="t dl ltr" style="left:988.00px;top:29.30px;width:66.00px;height:25.80px;font-size:15px;padding-bottom:3.5px;"><span>۰۴/۱۰/۱۴</span></div>
<div class="cf" style="left:884.65px;top:63.10px"></div>
<div class="ring" style="left:883.95px;top:62.40px"></div>
<div class="t dl ltr" style="left:870.00px;top:29.30px;width:62.00px;height:25.80px;font-size:15px;padding-bottom:3.5px;"><span>۰۴/۱۱/۰۱</span></div>
<div class="ln" style="left:901.15px;top:78.95px;width:120.25px"></div>
<div class="t du" style="left:921.28px;top:59.10px;width:80.00px;height:16.00px;font-size:13px;"><span>۱۶ روز</span></div>
<div class="t ag" style="left:771.00px;top:28.30px;width:75.00px;height:27.00px;font-size:14px;padding-bottom:6px;"><span>۱۷ روز قبل</span></div>
<div class="dash" style="left:848.00px;top:41.60px;width:20.00px"></div>
<div class="t ds r " style="left:156.50px;top:112.00px;width:900.00px;height:24.00px;font-size:18px;"><span>سود انباشته</span></div>
<div class="t cap g" style="left:17.00px;top:142.90px;width:152.00px;height:29.00px;font-size:19px;padding-bottom:5px;"><span>۲۲۰۰ میلیارد تومان</span></div>
<div class="t cap b" style="left:261.00px;top:142.90px;width:149.00px;height:29.00px;font-size:18px;padding-bottom:5px;"><span>۱۷۰۰ میلیارد تومان</span></div>
<div class="t cl r" style="left:372.00px;top:142.90px;width:100.00px;height:29.00px;font-size:17px;"><span>سرمایه:</span></div>
<div class="ad" style="left:170.00px;top:157.20px;width:90.00px"></div>
<div class="ah" style="left:209.00px;top:150.90px"></div>
<div class="t ap ltr" style="left:175.00px;top:129.40px;width:80.00px;height:18.00px;font-size:17px;"><span>۲۹%</span></div>
<div class="t tag ltr" style="left:-3.00px;top:-4.60px;width:131.00px;height:25.70px;font-size:13px;"><span>۱۴۰۴/۱۱/۰۱ ۱۵:۰۲:۱۰</span></div>
<div class="pn" style="width:155.70px">
<div class="t nm" id="nm5" style="left:0.00px;top:15.50px;width:155.70px;height:44.00px;font-size:32px;"><span>حتاید</span></div>
<div class="dv" style="left:23px;top:75.90px;width:111px"></div>
<div class="t pc ltr" id="pc5" style="left:0.00px;top:82.50px;width:155.70px;height:48.00px;font-size:40px;"><span>۲۹%</span></div>
<div class="dv" style="left:23px;top:138.90px;width:111px"></div>
<div class="t pr" id="pr5" style="left:-15.30px;top:147px;width:160px;height:24px;font-size:24px"><span>۸,۹۶۰<small>ریال</small></span></div>
</div>
</div>
<div class="row" style="top:1535.83px;height:188.17px">
<div class="col" style="left:0.00px;width:119.40px;background:linear-gradient(to bottom,rgba(216,77,73,.13) 0%,rgba(216,77,73,.078) 40%,rgba(216,77,73,0) 84%)"></div>
<div class="col" style="left:119.40px;width:120.25px;background:linear-gradient(to bottom,rgba(231,124,79,.13) 0%,rgba(231,124,79,.078) 40%,rgba(231,124,79,0) 84%)"></div>
<div class="col" style="left:239.65px;width:120.25px;background:linear-gradient(to bottom,rgba(242,166,93,.13) 0%,rgba(242,166,93,.078) 40%,rgba(242,166,93,0) 84%)"></div>
<div class="col" style="left:359.90px;width:120.25px;background:linear-gradient(to bottom,rgba(235,195,106,.13) 0%,rgba(235,195,106,.078) 40%,rgba(235,195,106,0) 84%)"></div>
<div class="col" style="left:480.15px;width:120.25px;background:linear-gradient(to bottom,rgba(201,198,102,.13) 0%,rgba(201,198,102,.078) 40%,rgba(201,198,102,0) 84%)"></div>
<div class="col" style="left:600.40px;width:120.25px;background:linear-gradient(to bottom,rgba(150,184,95,.13) 0%,rgba(150,184,95,.078) 40%,rgba(150,184,95,0) 84%)"></div>
<div class="col" style="left:720.65px;width:120.25px;background:linear-gradient(to bottom,rgba(98,168,97,.13) 0%,rgba(98,168,97,.078) 40%,rgba(98,168,97,0) 84%)"></div>
<div class="col" style="left:840.90px;width:120.25px;background:linear-gradient(to bottom,rgba(6,153,99,.13) 0%,rgba(6,153,99,.078) 40%,rgba(6,153,99,0) 84%)"></div>
<div class="col" style="left:961.15px;width:120.15px;background:linear-gradient(to bottom,rgba(6,125,111,.13) 0%,rgba(6,125,111,.078) 40%,rgba(6,125,111,0) 84%)"></div>
<div class="vl" style="left:118.90px;background:linear-gradient(to bottom,rgba(231,124,79,.17),rgba(231,124,79,0) 95%)"></div>
<div class="vl" style="left:239.15px;background:linear-gradient(to bottom,rgba(242,166,93,.17),rgba(242,166,93,0) 95%)"></div>
<div class="vl" style="left:359.40px;background:linear-gradient(to bottom,rgba(235,195,106,.17),rgba(235,195,106,0) 95%)"></div>
<div class="vl" style="left:479.65px;background:linear-gradient(to bottom,rgba(201,198,102,.17),rgba(201,198,102,0) 95%)"></div>
<div class="vl" style="left:599.90px;background:linear-gradient(to bottom,rgba(150,184,95,.17),rgba(150,184,95,0) 95%)"></div>
<div class="vl" style="left:720.15px;background:linear-gradient(to bottom,rgba(98,168,97,.17),rgba(98,168,97,0) 95%)"></div>
<div class="vl" style="left:840.40px;background:linear-gradient(to bottom,rgba(6,153,99,.17),rgba(6,153,99,0) 95%)"></div>
<div class="vl" style="left:960.65px;background:linear-gradient(to bottom,rgba(6,125,111,.17),rgba(6,125,111,0) 95%)"></div>
<div class="hl" style="left:59.40px;top:79.10px;width:962.00px"></div>
<div class="ce" style="left:42.90px;top:63.10px"></div>
<div class="ce" style="left:163.15px;top:63.10px"></div>
<div class="ce" style="left:283.40px;top:63.10px"></div>
<div class="ce" style="left:403.65px;top:63.10px"></div>
<div class="cf m" style="left:523.90px;top:63.10px"></div>
<div class="ring m" style="left:523.20px;top:62.40px"></div>
<div class="ag t" style="left:499.00px;top:9.60px;width:82px;height:45.5px;font-size:15px;flex-direction:column;line-height:1.2;padding-bottom:2px"><span>زمان جلسه</span><span class="ltr">۰۴/۱۱/۱۲</span></div>
<div class="cf" style="left:1004.90px;top:63.10px"></div>
<div class="t dl ltr" style="left:985.00px;top:29.30px;width:72.00px;height:25.80px;font-size:15px;padding-bottom:3.5px;"><span>۰۴/۰۲/۰۷</span></div>
<div class="cf" style="left:884.65px;top:63.10px"></div>
<div class="t dl ltr" style="left:864.00px;top:29.30px;width:73.00px;height:25.80px;font-size:15px;padding-bottom:3.5px;"><span>۰۴/۰۳/۱۳</span></div>
<div class="cf" style="left:764.40px;top:63.10px"></div>
<div class="t dl ltr" style="left:745.00px;top:29.30px;width:70.00px;height:25.80px;font-size:15px;padding-bottom:3.5px;"><span>۰۴/۱۰/۲۸</span></div>
<div class="cf" style="left:644.15px;top:63.10px"></div>
<div class="ring" style="left:643.45px;top:62.40px"></div>
<div class="t dl ltr" style="left:629.00px;top:29.30px;width:62.00px;height:25.80px;font-size:15px;padding-bottom:3.5px;"><span>۰۴/۱۱/۰۱</span></div>
<div class="ln" style="left:660.65px;top:78.95px;width:360.75px"></div>
<div class="ln m" style="left:540.40px;top:78.95px;width:108.25px"></div>
<div class="t du" style="left:921.28px;top:59.10px;width:80.00px;height:16.00px;font-size:13px;"><span>۳۶ روز</span></div>
<div class="t du" style="left:801.02px;top:59.10px;width:80.00px;height:16.00px;font-size:13px;"><span>۲۲۸ روز</span></div>
<div class="t du" style="left:680.77px;top:59.10px;width:80.00px;height:16.00px;font-size:13px;"><span>۳ روز</span></div>
<div class="t ds r b" style="left:156.50px;top:112.00px;width:900.00px;height:24.00px;font-size:18px;"><span><span dir="ltr">۲۳%</span> آورده نقدی، <span dir="ltr">۲۵%</span> سود انباشته</span></div>
<div class="t cap g" style="left:17.00px;top:142.90px;width:156.00px;height:29.00px;font-size:19px;padding-bottom:5px;"><span>۵۸۸۱ میلیارد تومان</span></div>
<div class="t cap b" style="left:259.00px;top:142.90px;width:153.00px;height:29.00px;font-size:19px;padding-bottom:5px;"><span>۳۹۶۱ میلیارد تومان</span></div>
<div class="t cl r" style="left:375.00px;top:142.90px;width:100.00px;height:29.00px;font-size:17px;"><span>سرمایه:</span></div>
<div class="ad" style="left:174.00px;top:157.20px;width:84.00px"></div>
<div class="ah" style="left:210.00px;top:150.90px"></div>
<div class="t ap ltr" style="left:176.00px;top:129.40px;width:80.00px;height:18.00px;font-size:17px;"><span>۴۸%</span></div>
<div class="t tag ltr" style="left:-3.00px;top:-4.60px;width:136.00px;height:25.70px;font-size:14px;"><span>۱۴۰۴/۱۱/۰۱ ۱۳:۴۹:۰۲</span></div>
<div class="pn" style="width:155.70px">
<div class="t nm" id="nm6" style="left:0.00px;top:15.50px;width:155.70px;height:44.00px;font-size:28px;"><span>خگستر</span></div>
<div class="dv" style="left:23px;top:75.90px;width:111px"></div>
<div class="t pc ltr" id="pc6" style="left:0.00px;top:82.50px;width:155.70px;height:48.00px;font-size:40px;"><span>۴۸%</span></div>
<div class="dv" style="left:23px;top:138.90px;width:111px"></div>
<div class="t pr" id="pr6" style="left:-15.30px;top:147px;width:160px;height:24px;font-size:24px"><span>۴,۰۳۷<small>ریال</small></span></div>
</div>
</div>
<div class="row" style="top:1739.86px;height:187.04px">
<div class="col" style="left:0.00px;width:119.40px;background:linear-gradient(to bottom,rgba(216,77,73,.13) 0%,rgba(216,77,73,.078) 40%,rgba(216,77,73,0) 84%)"></div>
<div class="col" style="left:119.40px;width:120.25px;background:linear-gradient(to bottom,rgba(231,124,79,.13) 0%,rgba(231,124,79,.078) 40%,rgba(231,124,79,0) 84%)"></div>
<div class="col" style="left:239.65px;width:120.25px;background:linear-gradient(to bottom,rgba(242,166,93,.13) 0%,rgba(242,166,93,.078) 40%,rgba(242,166,93,0) 84%)"></div>
<div class="col" style="left:359.90px;width:120.25px;background:linear-gradient(to bottom,rgba(235,195,106,.13) 0%,rgba(235,195,106,.078) 40%,rgba(235,195,106,0) 84%)"></div>
<div class="col" style="left:480.15px;width:120.25px;background:linear-gradient(to bottom,rgba(201,198,102,.13) 0%,rgba(201,198,102,.078) 40%,rgba(201,198,102,0) 84%)"></div>
<div class="col" style="left:600.40px;width:120.25px;background:linear-gradient(to bottom,rgba(150,184,95,.13) 0%,rgba(150,184,95,.078) 40%,rgba(150,184,95,0) 84%)"></div>
<div class="col" style="left:720.65px;width:120.25px;background:linear-gradient(to bottom,rgba(98,168,97,.13) 0%,rgba(98,168,97,.078) 40%,rgba(98,168,97,0) 84%)"></div>
<div class="col" style="left:840.90px;width:120.25px;background:linear-gradient(to bottom,rgba(6,153,99,.13) 0%,rgba(6,153,99,.078) 40%,rgba(6,153,99,0) 84%)"></div>
<div class="col" style="left:961.15px;width:120.15px;background:linear-gradient(to bottom,rgba(6,125,111,.13) 0%,rgba(6,125,111,.078) 40%,rgba(6,125,111,0) 84%)"></div>
<div class="vl" style="left:118.90px;background:linear-gradient(to bottom,rgba(231,124,79,.17),rgba(231,124,79,0) 95%)"></div>
<div class="vl" style="left:239.15px;background:linear-gradient(to bottom,rgba(242,166,93,.17),rgba(242,166,93,0) 95%)"></div>
<div class="vl" style="left:359.40px;background:linear-gradient(to bottom,rgba(235,195,106,.17),rgba(235,195,106,0) 95%)"></div>
<div class="vl" style="left:479.65px;background:linear-gradient(to bottom,rgba(201,198,102,.17),rgba(201,198,102,0) 95%)"></div>
<div class="vl" style="left:599.90px;background:linear-gradient(to bottom,rgba(150,184,95,.17),rgba(150,184,95,0) 95%)"></div>
<div class="vl" style="left:720.15px;background:linear-gradient(to bottom,rgba(98,168,97,.17),rgba(98,168,97,0) 95%)"></div>
<div class="vl" style="left:840.40px;background:linear-gradient(to bottom,rgba(6,153,99,.17),rgba(6,153,99,0) 95%)"></div>
<div class="vl" style="left:960.65px;background:linear-gradient(to bottom,rgba(6,125,111,.17),rgba(6,125,111,0) 95%)"></div>
<div class="hl" style="left:59.40px;top:79.10px;width:962.00px"></div>
<div class="ce" style="left:42.90px;top:63.10px"></div>
<div class="cf m" style="left:523.90px;top:63.10px"></div>
<div class="ring m" style="left:523.20px;top:62.40px"></div>
<div class="ag t" style="left:499.00px;top:9.60px;width:82px;height:45.5px;font-size:15px;flex-direction:column;line-height:1.2;padding-bottom:2px"><span>زمان جلسه</span><span class="ltr">۰۴/۱۱/۱۲</span></div>
<div class="cf" style="left:1004.90px;top:63.10px"></div>
<div class="t dl ltr" style="left:984.00px;top:29.30px;width:74.00px;height:25.80px;font-size:15px;padding-bottom:3.5px;"><span>۰۴/۰۵/۰۵</span></div>
<div class="cf" style="left:884.65px;top:63.10px"></div>
<div class="t dl ltr" style="left:864.00px;top:29.30px;width:73.00px;height:25.80px;font-size:15px;padding-bottom:3.5px;"><span>۰۴/۰۸/۰۷</span></div>
<div class="cf" style="left:764.40px;top:63.10px"></div>
<div class="t dl ltr" style="left:745.00px;top:29.30px;width:70.00px;height:25.80px;font-size:15px;padding-bottom:3.5px;"><span>۰۴/۱۰/۲۸</span></div>
<div class="cf" style="left:644.15px;top:63.10px"></div>
<div class="ring" style="left:643.45px;top:62.40px"></div>
<div class="t dl ltr" style="left:629.00px;top:29.30px;width:62.00px;height:25.80px;font-size:15px;padding-bottom:3.5px;"><span>۰۴/۱۱/۰۱</span></div>
<div class="ln" style="left:660.65px;top:78.95px;width:360.75px"></div>
<div class="ln m" style="left:540.40px;top:78.95px;width:108.25px"></div>
<div class="t du" style="left:921.28px;top:59.10px;width:80.00px;height:16.00px;font-size:13px;"><span>۹۴ روز</span></div>
<div class="t du" style="left:801.02px;top:59.10px;width:80.00px;height:16.00px;font-size:13px;"><span>۸۰ روز</span></div>
<div class="t du" style="left:680.77px;top:59.10px;width:80.00px;height:16.00px;font-size:13px;"><span>۳ روز</span></div>
<div class="t ds r b" style="left:156.50px;top:112.00px;width:900.00px;height:24.00px;font-size:18px;"><span><span dir="ltr">۵۰%</span> سود انباشته</span></div>
<div class="t cap g" style="left:17.00px;top:142.90px;width:150.00px;height:29.00px;font-size:18px;padding-bottom:5px;"><span>۱۵۰۰ میلیارد تومان</span></div>
<div class="t cap b" style="left:262.00px;top:142.90px;width:147.00px;height:29.00px;font-size:18px;padding-bottom:5px;"><span>۱۰۰۰ میلیارد تومان</span></div>
<div class="t cl r" style="left:372.00px;top:142.90px;width:100.00px;height:29.00px;font-size:17px;"><span>سرمایه:</span></div>
<div class="ad" style="left:168.00px;top:157.20px;width:93.00px"></div>
<div class="ah" style="left:208.50px;top:150.90px"></div>
<div class="t ap ltr" style="left:174.50px;top:129.40px;width:80.00px;height:18.00px;font-size:17px;"><span>۵۰%</span></div>
<div class="t tag ltr" style="left:-3.00px;top:-4.60px;width:135.00px;height:25.70px;font-size:14px;"><span>۱۴۰۴/۱۱/۰۱ ۱۱:۲۸:۴۵</span></div>
<div class="pn" style="width:155.70px">
<div class="t nm" id="nm7" style="left:0.00px;top:15.50px;width:155.70px;height:44.00px;font-size:32px;"><span>کیمیاتک</span></div>
<div class="dv" style="left:23px;top:75.90px;width:111px"></div>
<div class="t pc ltr" id="pc7" style="left:0.00px;top:82.50px;width:155.70px;height:48.00px;font-size:40px;"><span>۵۰%</span></div>
<div class="dv" style="left:23px;top:138.90px;width:111px"></div>
<div class="t pr" id="pr7" style="left:-15.30px;top:147px;width:160px;height:24px;font-size:24px"><span>۹,۸۳۰<small>ریال</small></span></div>
</div>
</div>
<div class="ft abs" style="left:0;top:1940px;width:1280px;height:118px">
<svg width="1280" height="118" viewBox="0 1940 1280 118"><polygon points="0,1948 250,1948 286,2003.7 1280,2003.7 1280,2058 0,2058" fill="#464e4b"/><polygon points="286,1948 419,1948 448,1991 313,1991" fill="#0a6e4f"/><polygon points="419,1948 548,1948 578,1991 448,1991" fill="#0d865f"/><polygon points="548,1948 679,1948 708,1991 578,1991" fill="#2cba8b"/><polygon points="729,1965 1280,1965 1280,1974 735.5,1974" fill="#27a277"/></svg>
<div class="t ltr r" id="ft1" style="left:13px;top:24.0px;width:300px;height:30px;font-size:23.7px;color:#ececec;justify-content:flex-start"><span>@CodalChart</span></div>
<div class="abs" style="left:15px;top:65.0px;width:216px;height:1px;background:#e0e0e0"></div>
<div class="t l" id="ft2" style="left:13px;top:68.5px;width:300px;height:30px;font-size:21px;color:#ececec"><span>کانال کدال چارت</span></div>
<div class="t r" id="ft3" style="left:800px;top:72.0px;width:466.5px;height:30px;font-size:17px;color:#f0f0f0"><span>یکشنبه ۱۹ بهمن ۱۴۰۴ ساعت ۰۰:۱۸:۳۴</span></div>
</div>
<div class="wm abs" id="wm" style="font-size:214px;transform:translate(159px,1492px) rotate(-54.3deg)"><span style="display:inline-block;transform:translate(12px,16px) scale(1.09)">@</span>CodalChart</div>
</body>
</html>
